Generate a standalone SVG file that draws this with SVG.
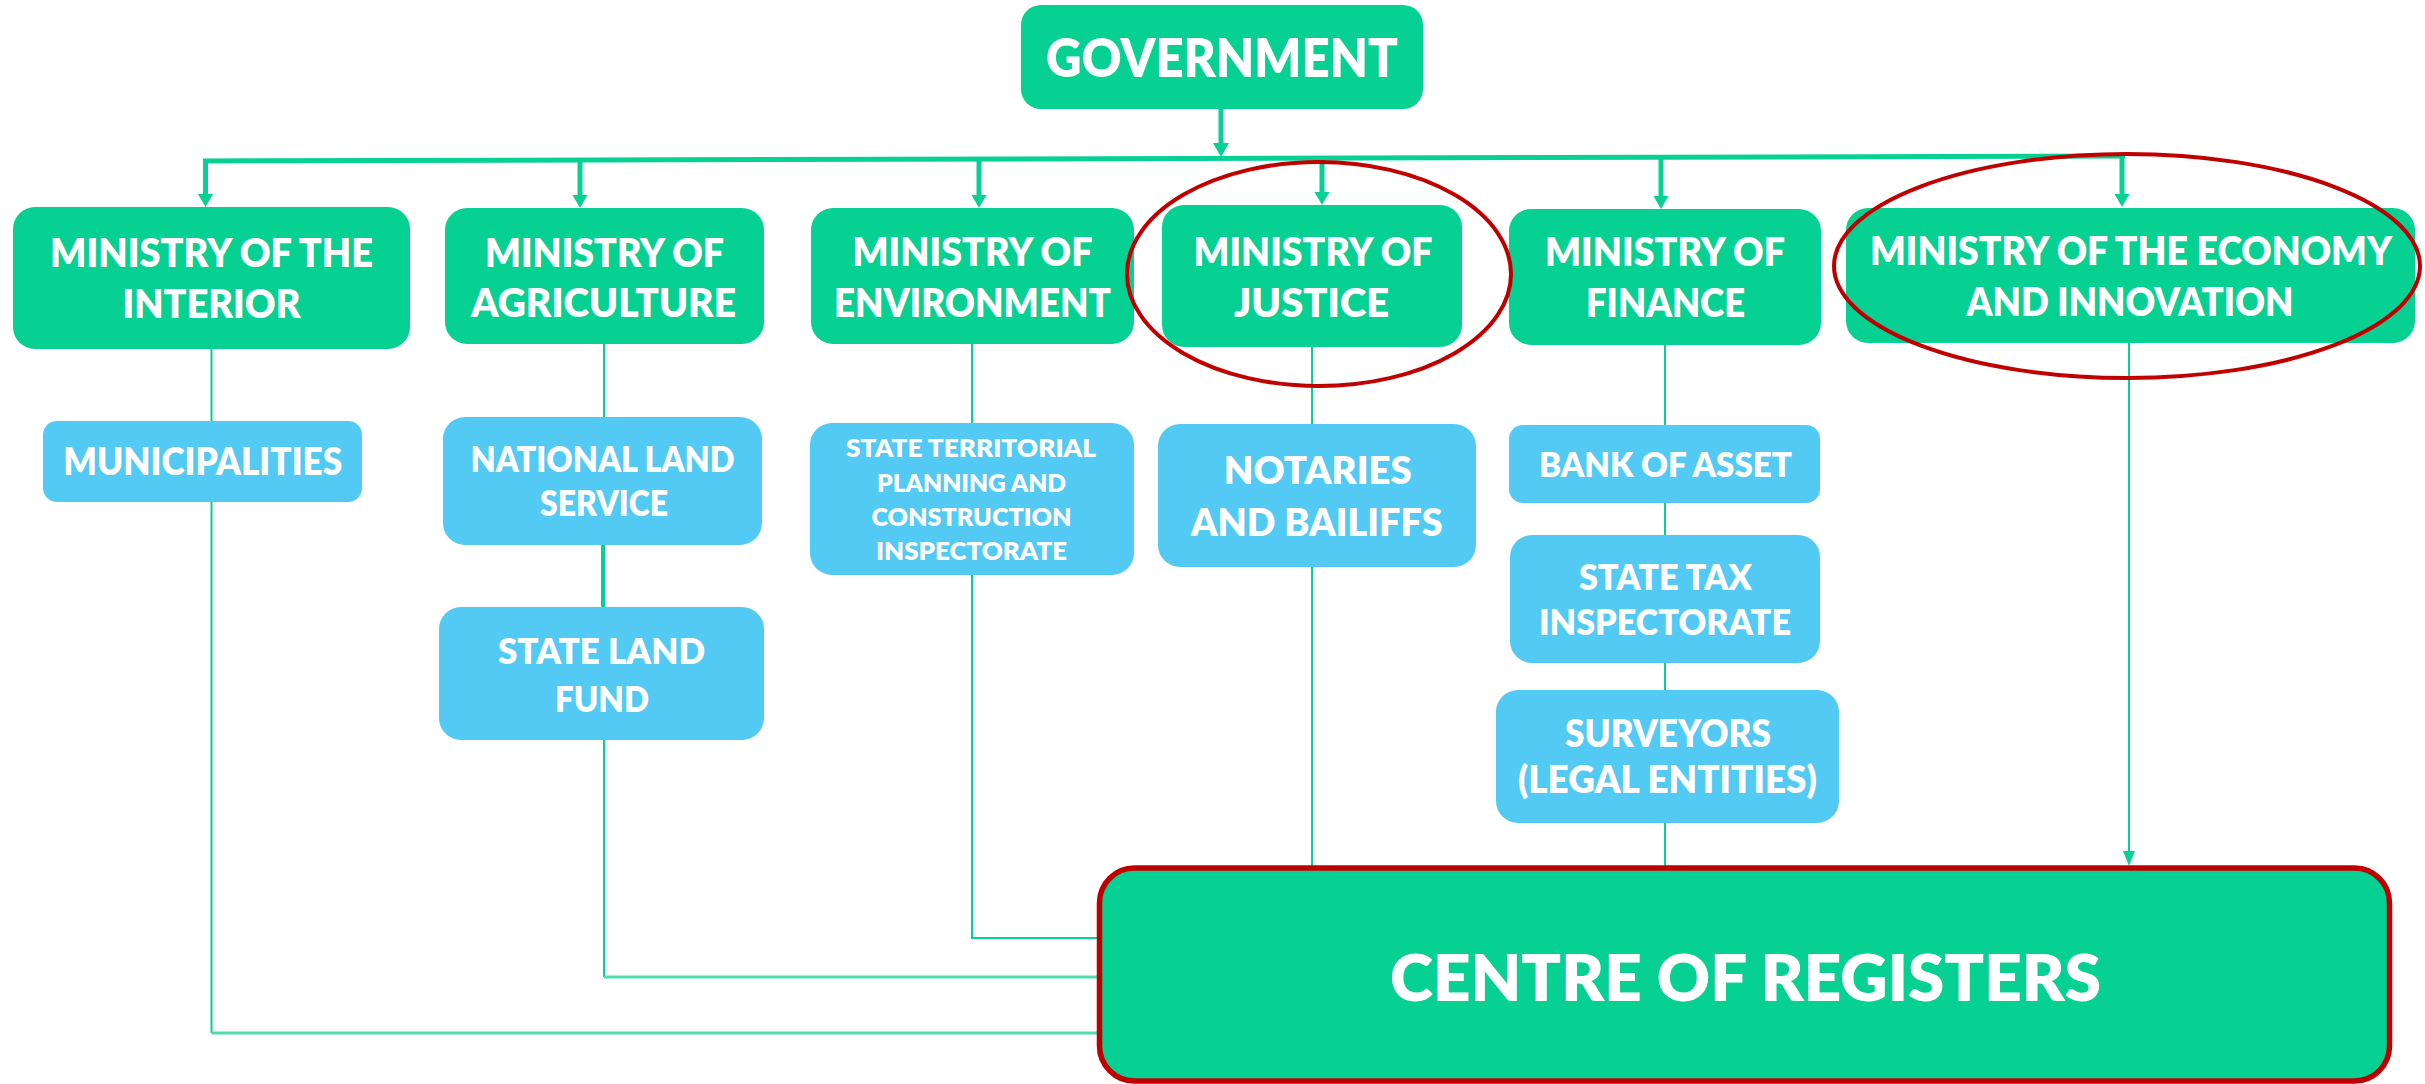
<svg xmlns="http://www.w3.org/2000/svg" width="2425" height="1084" viewBox="0 0 2425 1084">
<defs>
<style>
.min{fill:#07D093}
.sub{fill:#52CAF3}
.t{fill:#FFFFFF;font-family:Lato,"Open Sans","Liberation Sans",sans-serif;font-weight:800;text-anchor:middle}
.tm{font-size:40px}
.ts{font-size:37px}
.tx{font-size:25px}
.bus{stroke:#07D093;stroke-width:5;fill:none}
.thin{stroke:#07D093;stroke-width:2;fill:none}
.hz{stroke:#4FDCAE;stroke-width:3;fill:none}
.head{fill:#07D093}
.ring{fill:none;stroke:#C00000;stroke-width:4}
</style>
</defs>
<rect width="2425" height="1084" fill="#FFFFFF"/>
<g id="connectors">
<line class="bus" x1="1221" y1="109" x2="1221" y2="145"/>
<polygon class="head" points="1213,143 1229,143 1221,157"/>
<line class="bus" x1="203" y1="161" x2="2125" y2="156"/>
<line class="bus" x1="205.5" y1="160" x2="205.5" y2="196"/>
<polygon class="head" points="198,194 213,194 205.5,207"/>
<line class="bus" x1="580" y1="160" x2="580" y2="197"/>
<polygon class="head" points="572.5,195 587.5,195 580,208"/>
<line class="bus" x1="979" y1="159" x2="979" y2="197"/>
<polygon class="head" points="971.5,195 986.5,195 979,208"/>
<line class="bus" x1="1322" y1="158" x2="1322" y2="194"/>
<polygon class="head" points="1314.5,192 1329.5,192 1322,205"/>
<line class="bus" x1="1661" y1="157" x2="1661" y2="198"/>
<polygon class="head" points="1653.5,196 1668.5,196 1661,209"/>
<line class="bus" x1="2122" y1="156" x2="2122" y2="196"/>
<polygon class="head" points="2114.5,194 2129.5,194 2122,207"/>
<polyline class="thin" points="211.5,349 211.5,1033"/>
<line class="hz" x1="211.5" y1="1033" x2="1099" y2="1033"/>
<polyline class="thin" points="604,344 604,417"/>
<line stroke="#07D093" stroke-width="4" x1="603" y1="545" x2="603" y2="607"/>
<polyline class="thin" points="604,740 604,977"/>
<line class="hz" x1="604" y1="977" x2="1099" y2="977"/>
<polyline class="thin" points="972,344 972,938 1099,938 1099,911"/>
<line class="thin" x1="1312" y1="347" x2="1312" y2="867"/>
<line class="thin" x1="1665" y1="345" x2="1665" y2="867"/>
<line class="thin" x1="2129" y1="343" x2="2129" y2="852"/>
<polygon class="head" points="2123,851 2135,851 2129,866"/>
</g>
<g id="government">
<rect class="min" x="1021" y="5" width="402" height="104" rx="20"/>
<text class="t" x="1222" y="77" font-size="53" textLength="352" lengthAdjust="spacingAndGlyphs">GOVERNMENT</text>
</g>
<g id="ministry-interior">
<rect class="min" x="13" y="207" width="397" height="142" rx="22"/>
<text class="t tm" x="211.5" y="267" textLength="323" lengthAdjust="spacingAndGlyphs">MINISTRY OF THE</text>
<text class="t tm" x="211.5" y="318" textLength="178" lengthAdjust="spacingAndGlyphs">INTERIOR</text>
</g>
<g id="ministry-agriculture">
<rect class="min" x="445" y="208" width="319" height="136" rx="22"/>
<text class="t tm" x="604.5" y="267" textLength="239" lengthAdjust="spacingAndGlyphs">MINISTRY OF</text>
<text class="t tm" x="603.5" y="317" textLength="265" lengthAdjust="spacingAndGlyphs">AGRICULTURE</text>
</g>
<g id="ministry-environment">
<rect class="min" x="811" y="208" width="323" height="136" rx="22"/>
<text class="t tm" x="972.5" y="266" textLength="240" lengthAdjust="spacingAndGlyphs">MINISTRY OF</text>
<text class="t tm" x="972.5" y="317" textLength="277" lengthAdjust="spacingAndGlyphs">ENVIRONMENT</text>
</g>
<g id="ministry-justice">
<rect class="min" x="1162" y="205" width="300" height="142" rx="22"/>
<text class="t tm" x="1313" y="266" textLength="239" lengthAdjust="spacingAndGlyphs">MINISTRY OF</text>
<text class="t tm" x="1311.5" y="317" textLength="155" lengthAdjust="spacingAndGlyphs">JUSTICE</text>
</g>
<g id="ministry-finance">
<rect class="min" x="1509" y="209" width="312" height="136" rx="22"/>
<text class="t tm" x="1665" y="266" textLength="240" lengthAdjust="spacingAndGlyphs">MINISTRY OF</text>
<text class="t tm" x="1665.5" y="317" textLength="159" lengthAdjust="spacingAndGlyphs">FINANCE</text>
</g>
<g id="ministry-economy">
<rect class="min" x="1846" y="208" width="569" height="135" rx="22"/>
<text class="t tm" x="2131" y="265" textLength="522" lengthAdjust="spacingAndGlyphs">MINISTRY OF THE ECONOMY</text>
<text class="t tm" x="2130" y="316" textLength="327" lengthAdjust="spacingAndGlyphs">AND INNOVATION</text>
</g>
<g id="municipalities">
<rect class="sub" x="43" y="421" width="319" height="81" rx="14"/>
<text class="t ts" x="202.7" y="475" textLength="279" lengthAdjust="spacingAndGlyphs">MUNICIPALITIES</text>
</g>
<g id="national-land-service">
<rect class="sub" x="443" y="417" width="319" height="128" rx="22"/>
<text class="t" font-size="36" x="602.5" y="472" textLength="264" lengthAdjust="spacingAndGlyphs">NATIONAL LAND</text>
<text class="t" font-size="36" x="604" y="516" textLength="128" lengthAdjust="spacingAndGlyphs">SERVICE</text>
</g>
<g id="state-land-fund">
<rect class="sub" x="439" y="607" width="325" height="133" rx="22"/>
<text class="t" font-size="36" x="601.5" y="664" textLength="207" lengthAdjust="spacingAndGlyphs">STATE LAND</text>
<text class="t" font-size="36" x="602" y="712" textLength="94" lengthAdjust="spacingAndGlyphs">FUND</text>
</g>
<g id="state-territorial-planning">
<rect class="sub" x="810" y="423" width="324" height="152" rx="22"/>
<text class="t tx" x="971" y="457" textLength="250" lengthAdjust="spacingAndGlyphs">STATE TERRITORIAL</text>
<text class="t tx" x="971.5" y="492" textLength="189" lengthAdjust="spacingAndGlyphs">PLANNING AND</text>
<text class="t tx" x="971.5" y="526" textLength="200" lengthAdjust="spacingAndGlyphs">CONSTRUCTION</text>
<text class="t tx" x="971.5" y="560" textLength="191" lengthAdjust="spacingAndGlyphs">INSPECTORATE</text>
</g>
<g id="notaries-bailiffs">
<rect class="sub" x="1158" y="424" width="318" height="143" rx="22"/>
<text class="t" font-size="38" x="1317.7" y="484" textLength="188" lengthAdjust="spacingAndGlyphs">NOTARIES</text>
<text class="t" font-size="38" x="1316.7" y="536" textLength="252" lengthAdjust="spacingAndGlyphs">AND BAILIFFS</text>
</g>
<g id="bank-of-asset">
<rect class="sub" x="1509" y="425" width="311" height="78" rx="14"/>
<text class="t" font-size="34" x="1665.4" y="477" textLength="253" lengthAdjust="spacingAndGlyphs">BANK OF ASSET</text>
</g>
<g id="state-tax-inspectorate">
<rect class="sub" x="1510" y="535" width="310" height="128" rx="22"/>
<text class="t" font-size="35" x="1665.4" y="590" textLength="173" lengthAdjust="spacingAndGlyphs">STATE TAX</text>
<text class="t" font-size="35" x="1665" y="635" textLength="252" lengthAdjust="spacingAndGlyphs">INSPECTORATE</text>
</g>
<g id="surveyors">
<rect class="sub" x="1496" y="690" width="343" height="133" rx="22"/>
<text class="t ts" x="1668" y="747" textLength="206" lengthAdjust="spacingAndGlyphs">SURVEYORS</text>
<text class="t ts" x="1667.4" y="793" textLength="299" lengthAdjust="spacingAndGlyphs">(LEGAL ENTITIES)</text>
</g>
<g id="centre-of-registers">
<rect class="min" x="1099.5" y="868" width="1290" height="213" rx="35" stroke="#C00000" stroke-width="5.5"/>
<text class="t" font-size="64" x="1745.5" y="1001" textLength="711" lengthAdjust="spacingAndGlyphs">CENTRE OF REGISTERS</text>
</g>
<g id="highlights">
<ellipse class="ring" cx="1319" cy="274" rx="192" ry="112"/>
<ellipse class="ring" cx="2127" cy="266" rx="293" ry="112"/>
</g>
</svg>
